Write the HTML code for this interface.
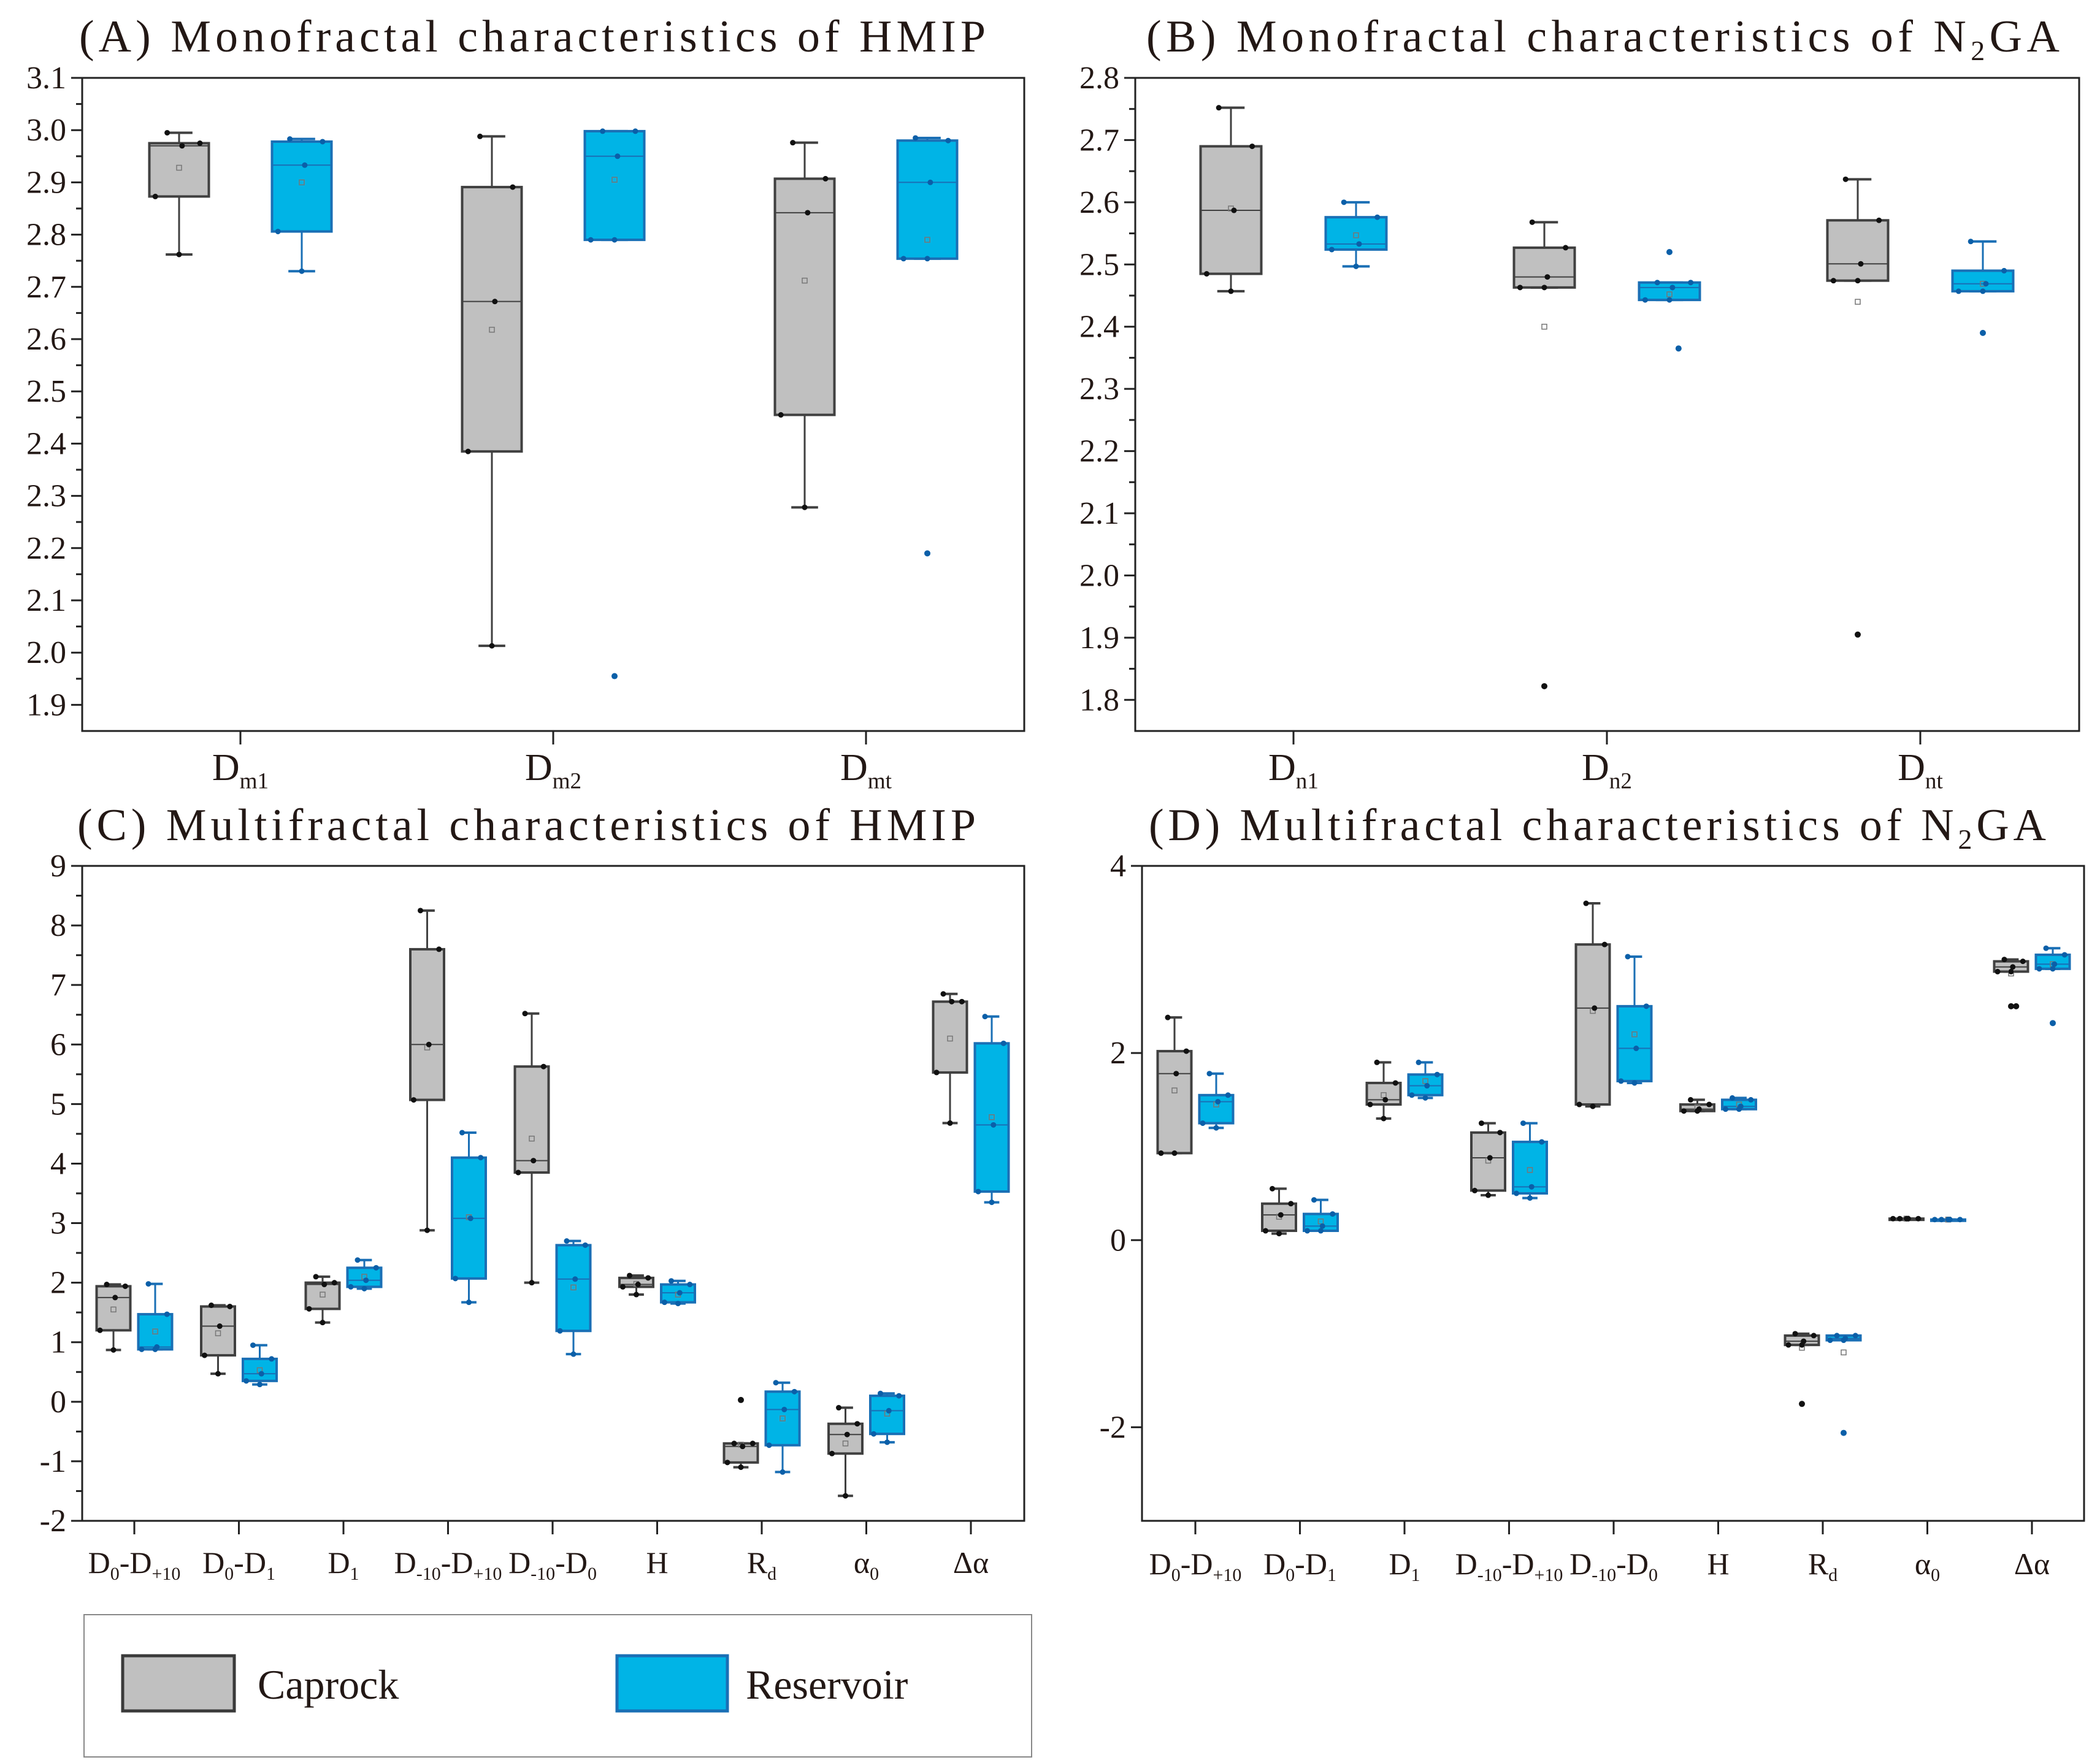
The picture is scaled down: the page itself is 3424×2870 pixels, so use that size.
<!DOCTYPE html>
<html><head><meta charset="utf-8">
<style>
html,body{margin:0;padding:0;background:#fff;}
svg{display:block;font-family:"Liberation Serif",serif;}
</style></head>
<body>
<svg id="fig" width="3424" height="2870" viewBox="0 0 3424 2870" xmlns="http://www.w3.org/2000/svg">
<rect x="0" y="0" width="3424" height="2870" fill="#fff"/>
<text x="129" y="84" font-size="74" fill="#231815" textLength="1478" lengthAdjust="spacing">(A) Monofractal characteristics of HMIP</text>
<text x="1869" y="84" font-size="74" fill="#231815" textLength="1489" lengthAdjust="spacing">(B) Monofractal characteristics of  N<tspan font-size="46" dy="14">2</tspan><tspan dy="-14">GA</tspan></text>
<text x="126" y="1370" font-size="74" fill="#231815" textLength="1465" lengthAdjust="spacing">(C) Multifractal characteristics of HMIP</text>
<text x="1873" y="1370" font-size="74" fill="#231815" textLength="1463" lengthAdjust="spacing">(D) Multifractal characteristics of N<tspan font-size="46" dy="14">2</tspan><tspan dy="-14">GA</tspan></text>
<g id="plots"></g>
<g>
<rect x="137" y="2633" width="1545" height="232" fill="#fff" stroke="#888" stroke-width="2"/>
<rect x="200" y="2700" width="182" height="90" fill="#c0c0c0" stroke="#3a3a3a" stroke-width="5"/>
<text x="420" y="2770" font-size="68" fill="#231815">Caprock</text>
<rect x="1006" y="2700" width="180" height="90" fill="#00b4e6" stroke="#1a6fb5" stroke-width="5"/>
<text x="1216" y="2770" font-size="68" fill="#231815">Reservoir</text>
</g>
</svg>
<script>
// ---- Panel A data: [whiskerHigh, Q3, median, Q1, whiskerLow]
const catsA = [["D","m1"],["D","m2"],["D","mt"]];
const capA = [[2.995,2.975,2.970,2.873,2.762],[2.988,2.891,2.672,2.385,2.013],[2.976,2.907,2.842,2.455,2.278]];
const resA = [[2.983,2.978,2.933,2.806,2.730],[2.998,2.998,2.950,2.790,2.790],[2.985,2.980,2.900,2.754,2.754]];
const capMeanA = [2.928,2.618,2.712];
const resMeanA = [2.900,2.905,2.790];
const capOutA = [[],[],[]];
const resOutA = [[],[1.955],[2.19]];
const ticksA = [1.9,2.0,2.1,2.2,2.3,2.4,2.5,2.6,2.7,2.8,2.9,3.0,3.1];
const tickLabelsA = ["1.9","2.0","2.1","2.2","2.3","2.4","2.5","2.6","2.7","2.8","2.9","3.0","3.1"];
// ---- Panel B
const catsB = [["D","n1"],["D","n2"],["D","nt"]];
const capB = [[2.752,2.690,2.587,2.485,2.457],[2.568,2.527,2.480,2.463,2.463],[2.637,2.571,2.501,2.474,2.474]];
const resB = [[2.600,2.576,2.533,2.524,2.497],[2.471,2.471,2.463,2.443,2.443],[2.537,2.490,2.469,2.457,2.457]];
const capMeanB = [2.590,2.400,2.440];
const resMeanB = [2.547,2.452,2.469];
const capOutB = [[],[1.822],[1.905]];
const resOutB = [[],[2.52,2.365],[2.39]];
const ticksB = [1.8,1.9,2.0,2.1,2.2,2.3,2.4,2.5,2.6,2.7,2.8];
const tickLabelsB = ["1.8","1.9","2.0","2.1","2.2","2.3","2.4","2.5","2.6","2.7","2.8"];
// ---- Panel C
const catsMulti = [["D","0","-D","+10"],["D","0","-D","1"],["D","1"],["D","-10","-D","+10"],["D","-10","-D","0"],["H"],["R","d"],["α","0"],["Δα"]];
const capC = [[1.97,1.94,1.75,1.20,0.87],[1.62,1.60,1.27,0.78,0.47],[2.10,2.00,1.97,1.56,1.33],[8.25,7.60,6.00,5.07,2.88],[6.52,5.63,4.05,3.85,2.00],[2.12,2.08,1.97,1.93,1.80],[-0.70,-0.70,-0.75,-1.02,-1.10],[-0.10,-0.37,-0.55,-0.87,-1.58],[6.85,6.72,6.72,5.53,4.68]];
const resC = [[1.98,1.47,0.92,0.88,0.88],[0.95,0.72,0.47,0.35,0.29],[2.38,2.25,2.04,1.93,1.90],[4.52,4.10,3.08,2.07,1.67],[2.70,2.63,2.06,1.19,0.80],[2.03,1.97,1.83,1.67,1.65],[0.32,0.17,-0.13,-0.73,-1.18],[0.14,0.10,-0.15,-0.54,-0.68],[6.47,6.02,4.65,3.53,3.35]];
const capMeanC = [1.55,1.15,1.80,5.95,4.42,1.98,-0.72,-0.70,6.10];
const resMeanC = [1.18,0.53,2.10,3.10,1.92,1.80,-0.28,-0.20,4.78];
const capOutC = [[],[],[],[],[],[],[0.03],[],[]];
const resOutC = [[],[],[],[],[],[],[],[],[]];
const ticksC = [-2,-1,0,1,2,3,4,5,6,7,8,9];
const tickLabelsC = ["-2","-1","0","1","2","3","4","5","6","7","8","9"];
// ---- Panel D
const capD = [[2.38,2.02,1.78,0.93,0.93],[0.55,0.39,0.27,0.10,0.07],[1.90,1.68,1.50,1.45,1.30],[1.25,1.15,0.88,0.53,0.48],[3.60,3.16,2.48,1.45,1.43],[1.50,1.45,1.40,1.38,1.38],[-1.00,-1.02,-1.08,-1.12,-1.12],[0.23,0.23,0.23,0.23,0.23],[3.00,2.98,2.92,2.87,2.87]];
const resD = [[1.78,1.55,1.48,1.25,1.20],[0.43,0.28,0.15,0.10,0.10],[1.90,1.77,1.65,1.55,1.52],[1.25,1.05,0.57,0.50,0.45],[3.03,2.50,2.05,1.70,1.68],[1.52,1.50,1.43,1.40,1.40],[-1.02,-1.02,-1.05,-1.07,-1.07],[0.22,0.22,0.22,0.22,0.22],[3.12,3.05,2.95,2.90,2.90]];
const capMeanD = [1.60,0.25,1.55,0.85,2.45,1.42,-1.15,0.23,2.85];
const resMeanD = [1.45,0.20,1.70,0.75,2.20,1.45,-1.20,0.22,2.95];
const capOutD = [[],[],[],[],[],[],[-1.75],[],[2.5,2.5]];
const resOutD = [[],[],[],[],[],[],[-2.06],[],[2.32]];
const ticksD = [-2,0,2,4];
const tickLabelsD = ["-2","0","2","4"];

const NS = "http://www.w3.org/2000/svg";
const root = document.getElementById('plots');
function mk(tag, attrs, parent){ const e=document.createElementNS(NS,tag); for(const k in attrs) e.setAttribute(k,attrs[k]); (parent||root).appendChild(e); return e; }

const CAP = {fill:"#c0c0c0", stroke:"#404040", dot:"#111"};
const RES = {fill:"#00b4e6", stroke:"#1a6fb5", dot:"#0b5fa8"};

function panel(cfg){
  const g = mk('g',{});
  
  
  const y = v => cfg.top + (cfg.vmax - v) / (cfg.vmax - cfg.vmin) * (cfg.bottom - cfg.top);
  const xs = i => cfg.cx0 + i * cfg.step;
  const fr = mk('rect',{x:cfg.left,y:cfg.top,width:cfg.right-cfg.left,height:cfg.bottom-cfg.top,fill:"none",stroke:"#222","stroke-width":3},g);
  
  
  cfg.ticks.forEach((t,i)=>{
    const yy=y(t);
    mk('line',{x1:cfg.left-18,x2:cfg.left,y1:yy,y2:yy,stroke:"#222","stroke-width":3},g);
    const tl = mk('text',{x:cfg.left-26,y:yy+17,"font-size":52,"text-anchor":"end",fill:"#231815"},g);
    
    
    tl.textContent = cfg.tickLabels[i];
    if(cfg.minor && i<cfg.ticks.length-1){
      const ym=y((t+cfg.ticks[i+1])/2);
      mk('line',{x1:cfg.left-10,x2:cfg.left,y1:ym,y2:ym,stroke:"#222","stroke-width":3},g);
    }
  });
  if(cfg.minor){ const ym=y(cfg.ticks[0]-(cfg.ticks[1]-cfg.ticks[0])/2); if(ym<cfg.bottom) mk('line',{x1:cfg.left-10,x2:cfg.left,y1:ym,y2:ym,stroke:"#222","stroke-width":3},g); }
  cfg.cats.forEach((c,i)=>{
    const cx=xs(i);
    mk('line',{x1:cx,x2:cx,y1:cfg.bottom,y2:cfg.bottom+22,stroke:"#222","stroke-width":3},g);
    const t = mk('text',{x:cx,y:cfg.labelY,"font-size":cfg.labelSize,"text-anchor":"middle",fill:"#231815"},g);
    
    
    c.forEach((part,j)=>{
      const ts=document.createElementNS(NS,'tspan');
      if(j%2===1){ ts.setAttribute('font-size', cfg.labelSize*0.6); ts.setAttribute('dy', cfg.labelSize*0.22); }
      else if(j>0){ ts.setAttribute('dy', -cfg.labelSize*0.22); }
      ts.textContent=part; t.appendChild(ts);
    });
    drawBox(g, cx-cfg.off, cfg.bw, cfg.cap[i], cfg.capMean[i], cfg.capOut[i], CAP, y, 'caprock-box');
    drawBox(g, cx+cfg.off, cfg.bw, cfg.res[i], cfg.resMean[i], cfg.resOut[i], RES, y, 'reservoir-box');
  });
}
function drawBox(g, cx, bw, s, mean, outs, st, y, nm){
  const bg = mk('g',{},g);
  
  
  const [hi,q3,md,q1,lo]=s;
  const cw=bw*0.45;
  mk('line',{x1:cx,x2:cx,y1:y(hi),y2:y(q3),stroke:st.stroke,"stroke-width":3},bg);
  mk('line',{x1:cx,x2:cx,y1:y(q1),y2:y(lo),stroke:st.stroke,"stroke-width":3},bg);
  mk('line',{x1:cx-cw/2,x2:cx+cw/2,y1:y(hi),y2:y(hi),stroke:st.stroke,"stroke-width":4},bg);
  mk('line',{x1:cx-cw/2,x2:cx+cw/2,y1:y(lo),y2:y(lo),stroke:st.stroke,"stroke-width":4},bg);
  mk('rect',{x:cx-bw/2,y:y(q3),width:bw,height:Math.max(2,y(q1)-y(q3)),fill:st.fill,stroke:st.stroke,"stroke-width":4},bg);
  mk('line',{x1:cx-bw/2,x2:cx+bw/2,y1:y(md),y2:y(md),stroke:st.stroke,"stroke-width":2},bg);
  mk('rect',{x:cx-4,y:y(mean)-4,width:8,height:8,fill:"none",stroke:"#777","stroke-width":1.5},bg);
  [hi,q3,md,q1,lo].forEach((v,k)=>{
    const dx=[ -bw*0.2, bw*0.35, bw*0.05, -bw*0.4, 0][k];
    mk('circle',{cx:cx+dx,cy:y(v),r:4.5,fill:st.dot},bg);
  });
  outs.forEach((v,k)=>{
    const o = mk('circle',{cx:cx+(k%2? bw*0.15:0),cy:y(v),r:5,fill:st.dot},bg);
    
    
  });
}

panel({name:"panel-a",left:134,right:1670,top:127,bottom:1192,vmin:1.85,vmax:3.1,ticks:ticksA,tickLabels:tickLabelsA,minor:true,
  cats:catsA,cx0:392,step:510,off:100,bw:97,cap:capA,res:resA,capMean:capMeanA,resMean:resMeanA,capOut:capOutA,resOut:resOutA,labelY:1272,labelSize:62});
panel({name:"panel-b",left:1851,right:3390,top:127,bottom:1192,vmin:1.75,vmax:2.8,ticks:ticksB,tickLabels:tickLabelsB,minor:true,
  cats:catsB,cx0:2109,step:511,off:102,bw:99,cap:capB,res:resB,capMean:capMeanB,resMean:resMeanB,capOut:capOutB,resOut:resOutB,labelY:1272,labelSize:62});
panel({name:"panel-c",left:134,right:1670,top:1412,bottom:2480,vmin:-2,vmax:9,ticks:ticksC,tickLabels:tickLabelsC,minor:true,
  cats:catsMulti,cx0:219,step:170.5,off:34,bw:55,cap:capC,res:resC,capMean:capMeanC,resMean:resMeanC,capOut:capOutC,resOut:resOutC,labelY:2565,labelSize:50});
panel({name:"panel-d",left:1862,right:3398,top:1412,bottom:2480,vmin:-3,vmax:4,ticks:ticksD,tickLabels:tickLabelsD,minor:false,
  cats:catsMulti,cx0:1949,step:170.5,off:34,bw:55,cap:capD,res:resD,capMean:capMeanD,resMean:resMeanD,capOut:capOutD,resOut:resOutD,labelY:2567,labelSize:50});
</script>
</body></html>
